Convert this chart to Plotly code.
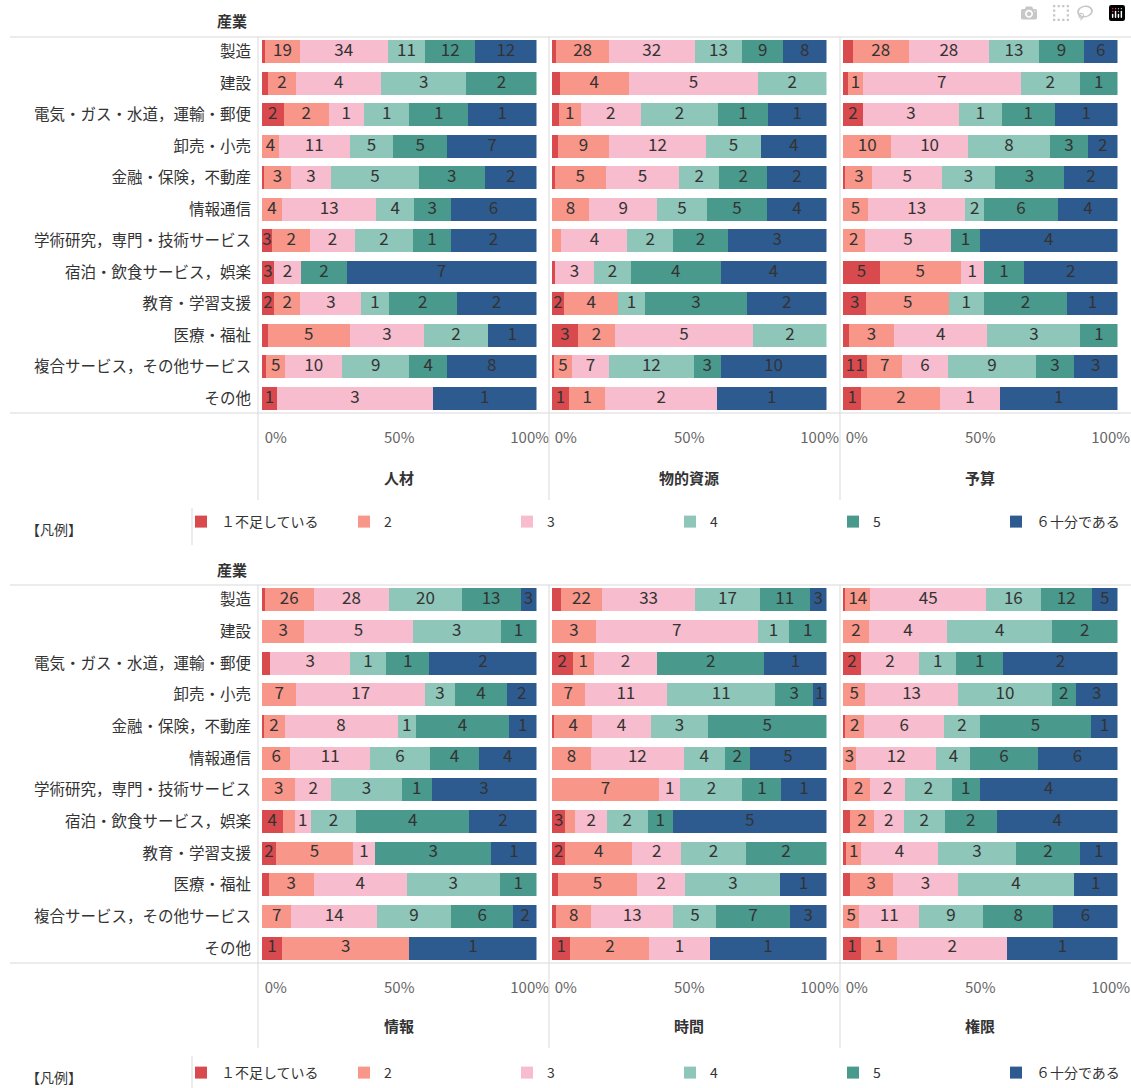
import plotly.graph_objects as go

industries = ["製造", "建設", "電気・ガス・水道，運輸・郵便", "卸売・小売", "金融・保険，不動産", "情報通信",
              "学術研究，専門・技術サービス", "宿泊・飲食サービス，娯楽", "教育・学習支援", "医療・福祉",
              "複合サービス，その他サービス", "その他"]
levels = ["１不足している", "2", "3", "4", "5", "６十分である"]
level_colors = ["#D94A4F", "#F8968A", "#F7BCCD", "#8EC6B9", "#49998C", "#2E5B8F"]

tick_values = [5, 50, 97.5]
tick_labels = ["0%", "50%", "100%"]

# ---- 人材 (share %, per level 1..6) ----
jinzai_pct = [
    [1.2, 12.5, 32.1, 13.7, 18.2, 22.3], [2.1, 10.3, 31.1, 30.9, 25.6, 0], [7.9, 16.4, 12.8, 16.6, 21.3, 25.0],
    [0, 6.1, 25.9, 15.8, 19.7, 32.5], [0.9, 9.5, 14.9, 31.8, 24.1, 18.8], [0, 7.3, 34.4, 13.7, 13.3, 31.3],
    [3.6, 14.0, 16.2, 21.3, 13.6, 31.3], [4.3, 0, 10.0, 0, 16.5, 69.2], [4.3, 9.7, 22.2, 10.0, 24.7, 29.1],
    [2.1, 29.9, 27.0, 23.3, 0, 17.7], [1.5, 7.0, 20.7, 24.5, 13.7, 32.6], [5.5, 0, 56.7, 0, 0, 37.8]]
jinzai_n = [
    [None, 19, 34, 11, 12, 12], [None, 2, 4, 3, 2, None], [2, 2, 1, 1, 1, 1], [None, 4, 11, 5, 5, 7],
    [None, 3, 3, 5, 3, 2], [None, 4, 13, 4, 3, 6], [3, 2, 2, 2, 1, 2], [3, None, 2, None, 2, 7],
    [2, 2, 3, 1, 2, 2], [None, 5, 3, 2, None, 1], [None, 5, 10, 9, 4, 8], [1, None, 3, None, None, 1]]

# ---- 物的資源 ----
butsu_pct = [
    [1.6, 19.1, 31.3, 17.3, 14.9, 15.8], [2.8, 25.2, 47.1, 24.9, 0, 0], [2.6, 7.8, 21.9, 28.3, 18.0, 21.4],
    [2.2, 18.5, 35.4, 20.0, 0, 23.9], [1.0, 18.5, 26.9, 14.5, 17.6, 21.5], [0, 13.5, 24.9, 17.9, 22.1, 21.6],
    [0, 3.4, 24.1, 16.6, 20.0, 35.9], [1.0, 0, 14.3, 13.4, 32.7, 38.6], [4.4, 19.7, 0, 9.7, 37.3, 28.9],
    [9.5, 13.4, 50.4, 26.7, 0, 0], [0.7, 6.6, 13.4, 31.0, 9.7, 38.6], [6.2, 13.2, 40.7, 0, 0, 39.9]]
butsu_n = [
    [None, 28, 32, 13, 9, 8], [None, 4, 5, 2, None, None], [None, 1, 2, 2, 1, 1], [None, 9, 12, 5, None, 4],
    [None, 5, 5, 2, 2, 2], [None, 8, 9, 5, 5, 4], [None, None, 4, 2, 2, 3], [None, None, 3, 2, 4, 4],
    [2, 4, None, 1, 3, 2], [3, 2, 5, 2, None, None], [None, 5, 7, 12, 3, 10], [1, 1, 2, None, None, 1]]

# ---- 予算 ----
yosan_pct = [
    [3.6, 20.3, 29.3, 18.2, 16.3, 12.3], [1.8, 5.5, 57.4, 21.6, 13.7, 0], [7.3, 0, 34.9, 15.6, 19.4, 22.8],
    [0, 17.6, 27.9, 30.0, 13.7, 10.8], [0.9, 9.8, 25.4, 19.2, 25.3, 19.4], [0, 9.1, 35.5, 6.7, 27.1, 21.6],
    [0, 7.9, 31.6, 0, 10.3, 50.2], [13.4, 29.5, 8.4, 0, 14.6, 34.1], [8.5, 30.1, 0, 12.6, 30.5, 18.3],
    [2.1, 16.5, 34.0, 33.9, 13.5, 0], [8.9, 12.6, 16.8, 32.0, 13.9, 15.8], [6.7, 28.8, 21.6, 0, 0, 42.9]]
yosan_n = [
    [None, 28, 28, 13, 9, 6], [None, 1, 7, 2, 1, None], [2, None, 3, 1, 1, 1], [None, 10, 10, 8, 3, 2],
    [None, 3, 5, 3, 3, 2], [None, 5, 13, 2, 6, 4], [None, 2, 5, None, 1, 4], [5, 5, 1, None, 1, 2],
    [3, 5, None, 1, 2, 1], [None, 3, 4, 3, 1, None], [11, 7, 6, 9, 3, 3], [1, 2, 1, None, None, 1]]

# ---- 情報 ----
joho_pct = [
    [1.0, 17.8, 27.6, 26.3, 21.5, 5.8], [0, 15.4, 39.5, 32.0, 13.1, 0], [3.0, 0, 29.1, 13.1, 15.8, 39.0],
    [0, 12.5, 46.9, 10.9, 19.0, 10.7], [0.6, 7.6, 41.2, 6.7, 33.8, 10.1], [0, 10.3, 29.1, 21.8, 17.8, 21.0],
    [0, 12.1, 13.1, 25.7, 10.9, 38.2], [7.5, 4.4, 5.9, 16.5, 41.2, 24.5], [5.1, 28.0, 8.1, 0, 42.4, 16.4],
    [2.4, 16.4, 33.9, 33.9, 13.4, 0], [0, 10.7, 31.2, 26.9, 22.8, 8.4], [7.3, 46.4, 0, 0, 0, 46.3]]
joho_n = [
    [None, 26, 28, 20, 13, 3], [None, 3, 5, 3, 1, None], [None, None, 3, 1, 1, 2], [None, 7, 17, 3, 4, 2],
    [None, 2, 8, 1, 4, 1], [None, 6, 11, 6, 4, 4], [None, 3, 2, 3, 1, 3], [4, None, 1, 2, 4, 2],
    [2, 5, 1, None, 3, 1], [None, 3, 4, 3, 1, None], [None, 7, 14, 9, 6, 2], [1, 3, None, None, None, 1]]

# ---- 時間 ----
jikan_pct = [
    [3.3, 14.9, 34.0, 23.5, 18.2, 6.1], [0, 16.0, 58.9, 11.5, 13.6, 0], [7.5, 7.7, 23.1, 0, 39.1, 22.6],
    [0, 11.9, 30.0, 39.5, 13.6, 5.0], [0.9, 13.7, 21.5, 20.7, 43.2, 0], [0, 14.2, 33.8, 14.9, 9.1, 28.0],
    [0, 38.9, 7.9, 22.5, 14.3, 16.4], [4.9, 3.6, 11.5, 14.8, 9.2, 56.0], [4.9, 24.3, 17.9, 23.4, 29.5, 0],
    [2.2, 28.8, 17.6, 34.6, 0, 16.8], [1.5, 12.8, 29.9, 15.7, 26.7, 13.4], [6.7, 28.8, 21.9, 0, 0, 42.6]]
jikan_n = [
    [None, 22, 33, 17, 11, 3], [None, 3, 7, 1, 1, None], [2, 1, 2, None, 2, 1], [None, 7, 11, 11, 3, 1],
    [None, 4, 4, 3, 5, None], [None, 8, 12, 4, 2, 5], [None, 7, 1, 2, 1, 1], [3, None, 2, 2, 1, 5],
    [2, 4, 2, 2, 2, None], [None, 5, 2, 3, None, 1], [None, 8, 13, 5, 7, 3], [1, 2, 1, None, None, 1]]

# ---- 権限 ----
kengen_pct = [
    [0.8, 9.2, 42.1, 19.9, 18.7, 9.3], [0, 9.4, 28.6, 38.1, 23.9, 0], [6.6, 0, 21.1, 13.6, 17.1, 41.6],
    [0, 8.1, 33.8, 34.2, 8.7, 15.2], [0.8, 7.0, 29.0, 13.0, 40.7, 9.5], [0, 4.8, 29.2, 12.4, 24.5, 29.1],
    [1.6, 8.3, 12.7, 17.0, 10.3, 50.1], [2.7, 8.5, 10.9, 14.9, 19.0, 44.0], [1.2, 5.4, 28.0, 28.4, 23.3, 13.7],
    [2.4, 15.7, 23.8, 42.3, 0, 15.8], [0, 6.0, 21.7, 23.3, 25.6, 23.4], [6.6, 13.0, 40.3, 0, 0, 40.1]]
kengen_n = [
    [None, 14, 45, 16, 12, 5], [None, 2, 4, 4, 2, None], [2, None, 2, 1, 1, 2], [None, 5, 13, 10, 2, 3],
    [None, 2, 6, 2, 5, 1], [None, 3, 12, 4, 6, 6], [None, 2, 2, 2, 1, 4], [None, 2, 2, 2, 2, 4],
    [None, 1, 4, 3, 2, 1], [None, 3, 3, 4, None, 1], [None, 5, 11, 9, 8, 6], [1, 1, 2, None, None, 1]]

facets = [("人材", jinzai_pct, jinzai_n), ("物的資源", butsu_pct, butsu_n), ("予算", yosan_pct, yosan_n),
          ("情報", joho_pct, joho_n), ("時間", jikan_pct, jikan_n), ("権限", kengen_pct, kengen_n)]

W, H = 1131, 1088
FONT = "Noto Sans CJK JP"


def fx(p):
    return p / W


def fy(p):
    return 1 - p / H


x_domains = [(262, 536.5), (552, 826.5), (843, 1117.5)]
panel_y = [(36, 414), (584, 964)]

fig = go.Figure()
for i, (title, pct, n) in enumerate(facets):
    panel, col = divmod(i, 3)
    xa = "x" if i == 0 else f"x{i + 1}"
    ya = "y" if panel == 0 else "y2"
    for k in range(6):
        fig.add_trace(go.Bar(
            y=industries, x=[row[k] for row in pct], orientation="h",
            marker=dict(color=level_colors[k], line=dict(width=0)),
            name=levels[k], xaxis=xa, yaxis=ya,
            legend="legend" if panel == 0 else "legend2",
            showlegend=(col == 0), legendgroup=f"p{panel}l{k}", hoverinfo="skip"))
    mids, ys, txt = [], [], []
    for r, row in enumerate(pct):
        start = 0
        for k, v in enumerate(row):
            lab = n[r][k]
            if lab is not None and v > 0:
                mids.append(start + v / 2)
                ys.append(industries[r])
                txt.append(str(lab))
            start += v
    fig.add_trace(go.Scatter(
        x=mids, y=ys, mode="text", text=txt,
        textfont=dict(family=FONT, size=17, color="#333333"),
        xaxis=xa, yaxis=ya, showlegend=False, hoverinfo="skip", cliponaxis=False))

layout = dict(
    width=W, height=H, margin=dict(l=0, r=0, t=0, b=0, autoexpand=False),
    paper_bgcolor="white", plot_bgcolor="white",
    barmode="stack", bargap=0.27,
    font=dict(family=FONT, color="#333333"),
    showlegend=True,
)
for i in range(6):
    panel, col = divmod(i, 3)
    key = "xaxis" if i == 0 else f"xaxis{i + 1}"
    d = x_domains[col]
    layout[key] = dict(
        domain=[fx(d[0]), fx(d[1])], anchor="y" if panel == 0 else "y2",
        range=[0, 100], showgrid=False, zeroline=False, showline=False, automargin=False,
        tickvals=tick_values, ticktext=tick_labels, ticks="",
        tickfont=dict(family=FONT, size=15, color="#666666"), ticklabelstandoff=13,
        fixedrange=True)
for panel in range(2):
    key = "yaxis" if panel == 0 else "yaxis2"
    d = panel_y[panel]
    layout[key] = dict(
        domain=[fy(d[1]), fy(d[0])], anchor="x" if panel == 0 else "x4",
        type="category", categoryorder="array", categoryarray=industries, automargin=False,
        range=[11.5, -0.5], showgrid=False, zeroline=False, showline=False, ticks="",
        tickfont=dict(family=FONT, size=15.5, color="#333333"), ticklabelstandoff=10,
        fixedrange=True)

legend_common = dict(orientation="h", xanchor="left", yanchor="middle",
                     entrywidth=118, entrywidthmode="pixels",
                     font=dict(family=FONT, size=14, color="#333333"),
                     bgcolor="rgba(0,0,0,0)", traceorder="normal", itemclick=False)
layout["legend"] = dict(legend_common, x=fx(181), y=fy(522))
layout["legend2"] = dict(legend_common, x=fx(181), y=fy(1073))

shapes = []
annotations = []
line_col = "#D9D9D9"
for panel in range(2):
    top, bot = panel_y[panel]
    off = 0 if panel == 0 else 548
    shapes.append(dict(type="line", xref="paper", yref="paper", x0=fx(10), x1=1,
                       y0=fy(top + 1), y1=fy(top + 1), line=dict(color=line_col, width=1)))
    shapes.append(dict(type="line", xref="paper", yref="paper", x0=fx(10), x1=1,
                       y0=fy(bot - 1), y1=fy(bot - 1), line=dict(color=line_col, width=1)))
    for xv in (258, 549, 840):
        shapes.append(dict(type="line", xref="paper", yref="paper", x0=fx(xv), x1=fx(xv),
                           y0=fy(top + 1), y1=fy(500 + off), line=dict(color=line_col, width=1)))
    shapes.append(dict(type="line", xref="paper", yref="paper", x0=fx(192), x1=fx(192),
                       y0=fy(508 + off), y1=fy(545 + off), line=dict(color=line_col, width=1)))
    annotations.append(dict(text="<b>産業</b>", xref="paper", yref="paper", x=fx(249), y=fy(21 + off),
                            xanchor="right", yanchor="middle", showarrow=False,
                            font=dict(family=FONT, size=15, color="#333333")))
    annotations.append(dict(text="【凡例】", xref="paper", yref="paper", x=fx(24), y=fy(529 + off),
                            xanchor="left", yanchor="middle", showarrow=False,
                            font=dict(family=FONT, size=14, color="#333333")))
    for col in range(3):
        d = x_domains[col]
        annotations.append(dict(text=f"<b>{facets[panel * 3 + col][0]}</b>", xref="paper", yref="paper",
                                x=fx((d[0] + d[1]) / 2), y=fy(477 + off), xanchor="center", yanchor="middle",
                                showarrow=False, font=dict(family=FONT, size=15, color="#333333")))
layout["shapes"] = shapes
layout["annotations"] = annotations

fig.update_layout(**layout)
fig.write_html("out.html", post_script="document.body.style.margin='0';")
